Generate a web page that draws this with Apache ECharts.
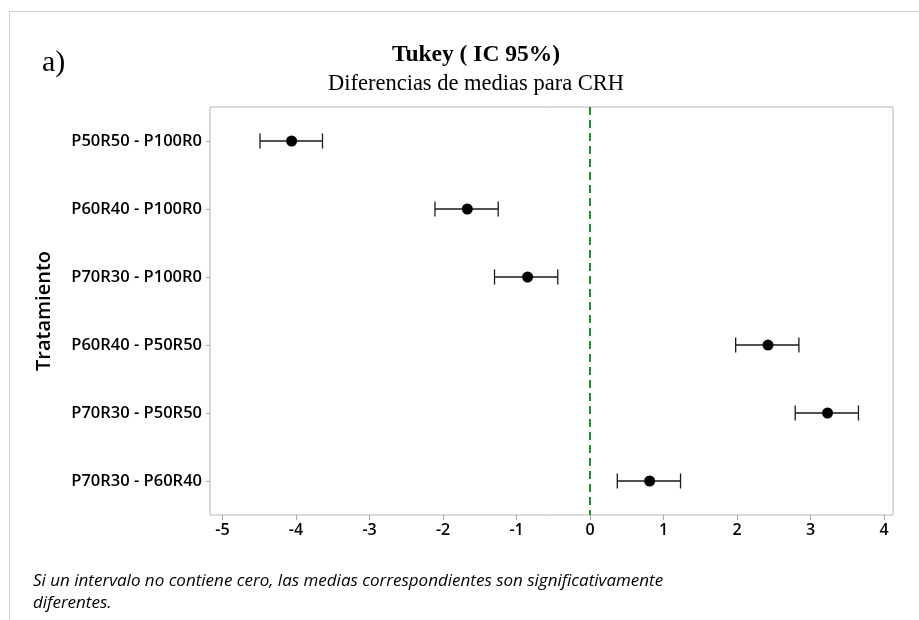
<!DOCTYPE html>
<html>
<head>
<meta charset="utf-8">
<script src="https://cdn.jsdelivr.net/npm/echarts@6/dist/echarts.min.js"></script>
<style>
  html, body { margin: 0; padding: 0; background: #fff; }
  #chart { width: 919px; height: 620px; }
</style>
</head>
<body>
<div id="chart"></div>
<script>
// Tukey pairwise comparisons (95% CI) of mean CRH by treatment
const comparisons = [
  'P50R50 - P100R0',
  'P60R40 - P100R0',
  'P70R30 - P100R0',
  'P60R40 - P50R50',
  'P70R30 - P50R50',
  'P70R30 - P60R40'
];
const meanDiff = [-4.06, -1.67, -0.85, 2.42, 3.23, 0.81];
const lowerCI  = [-4.49, -2.11, -1.30, 1.98, 2.79, 0.37];
const upperCI  = [-3.64, -1.25, -0.44, 2.84, 3.65, 1.23];
const xTicks   = [-5, -4, -3, -2, -1, 0, 1, 2, 3, 4];

const chart = echarts.init(document.getElementById('chart'));

const labelFont = '"Open Sans", "DejaVu Sans", sans-serif';
const serifFont = '"Liberation Serif", "Times New Roman", serif';

const option = {
  backgroundColor: '#ffffff',
  animation: false,
  title: [
    {
      text: 'Tukey ( IC 95%)',
      left: 471, top: 38, textAlign: 'center',
      textStyle: { fontFamily: serifFont, fontWeight: 'bold', fontSize: 23.5, color: '#000' }
    },
    {
      text: 'Diferencias de medias para CRH',
      left: 471, top: 68, textAlign: 'center',
      textStyle: { fontFamily: serifFont, fontWeight: 'normal', fontSize: 22.5, color: '#000' }
    },
    {
      text: 'a)',
      left: 37, top: 43,
      textStyle: { fontFamily: serifFont, fontWeight: 'normal', fontSize: 30, color: '#000' }
    }
  ],
  grid: { left: 210, top: 107, right: 26, bottom: 105, show: true, borderColor: '#b4b4b4', borderWidth: 1 },
  xAxis: {
    type: 'value',
    min: -5.17,
    max: 4.12,
    axisLine: { show: false, onZero: false },
    splitLine: { show: false },
    axisTick: { show: true, length: 5, lineStyle: { color: '#a8a8a8' }, customValues: xTicks },
    axisLabel: {
      customValues: xTicks,
      margin: 7,
      fontFamily: labelFont, fontWeight: 600, fontSize: 16, color: '#000'
    }
  },
  yAxis: {
    type: 'category',
    data: comparisons,
    inverse: true,
    name: 'Tratamiento',
    nameLocation: 'middle',
    nameGap: 156,
    nameTextStyle: { fontFamily: labelFont, fontWeight: 600, fontSize: 20, color: '#000' },
    axisLine: { show: false, onZero: false },
    axisTick: { show: true, length: 4, alignWithLabel: true, lineStyle: { color: '#a8a8a8' } },
    axisLabel: { margin: 8, fontFamily: labelFont, fontWeight: 600, fontSize: 16.5, color: '#000' },
    splitLine: { show: false }
  },
  series: [
    {
      // confidence interval whiskers with end caps
      type: 'custom',
      data: comparisons.map((c, i) => [i, lowerCI[i], upperCI[i]]),
      encode: { x: [1, 2], y: 0 },
      renderItem: function (params, api) {
        const cat = api.value(0);
        const lo = api.coord([api.value(1), cat]);
        const hi = api.coord([api.value(2), cat]);
        const cap = 7.5;
        const style = { stroke: '#1a1a1a', lineWidth: 1.3, fill: null };
        return {
          type: 'group',
          children: [
            { type: 'line', shape: { x1: lo[0], y1: lo[1], x2: hi[0], y2: hi[1] }, style: style },
            { type: 'line', shape: { x1: lo[0], y1: lo[1] - cap, x2: lo[0], y2: lo[1] + cap }, style: style },
            { type: 'line', shape: { x1: hi[0], y1: hi[1] - cap, x2: hi[0], y2: hi[1] + cap }, style: style }
          ]
        };
      },
      z: 2
    },
    {
      type: 'scatter',
      data: comparisons.map((c, i) => [meanDiff[i], c]),
      symbol: 'circle',
      symbolSize: 11,
      itemStyle: { color: '#000', opacity: 1 },
      z: 3,
      markLine: {
        silent: true,
        symbol: ['none', 'none'],
        label: { show: false },
        lineStyle: { color: '#1e8f35', width: 2, type: [8, 5] },
        data: [{ xAxis: 0 }]
      }
    }
  ],
  graphic: [
    { type: 'line', shape: { x1: 9.5, y1: 11.5, x2: 919, y2: 11.5 }, style: { stroke: '#cfcfcf', lineWidth: 1 } },
    { type: 'line', shape: { x1: 9.5, y1: 11.5, x2: 9.5, y2: 620 }, style: { stroke: '#cfcfcf', lineWidth: 1 } },
    {
      type: 'text', left: 33, top: 570,
      style: {
        text: 'Si un intervalo no contiene cero, las medias correspondientes son significativamente\ndiferentes.',
        fontFamily: labelFont, fontStyle: 'italic', fontSize: 17, lineHeight: 22, fill: '#000'
      }
    }
  ]
};

chart.setOption(option);
</script>
</body>
</html>
